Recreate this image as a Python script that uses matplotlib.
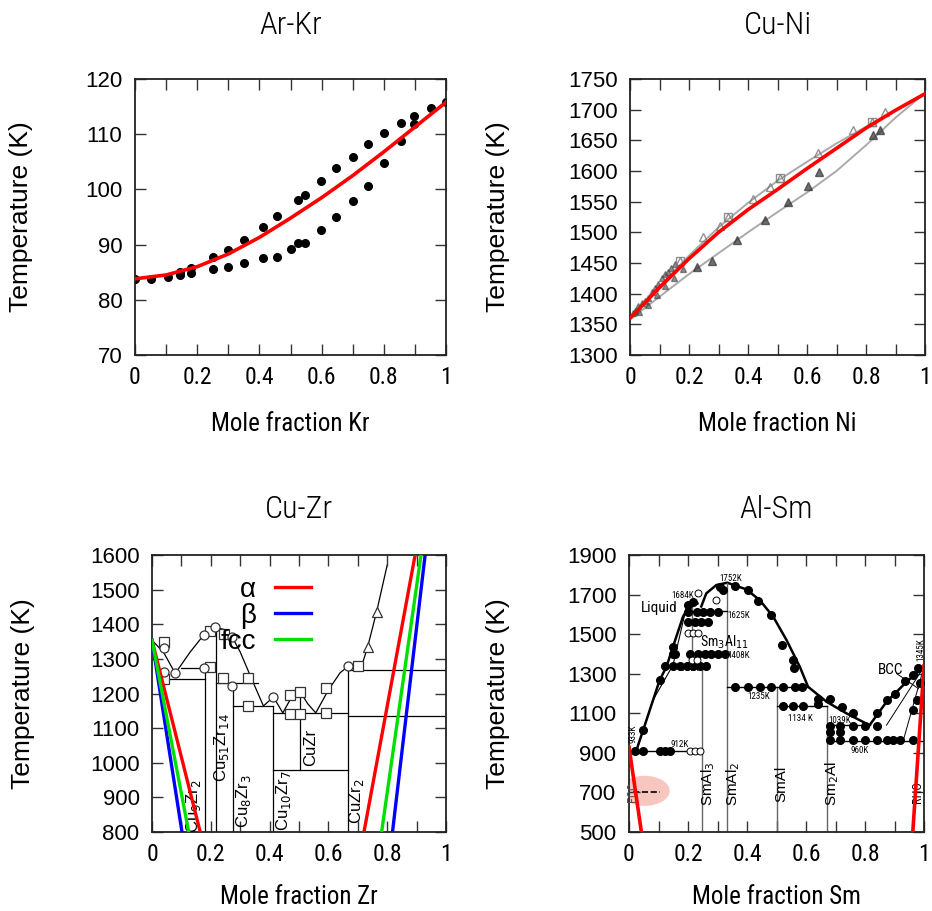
import matplotlib
matplotlib.use("Agg")
import matplotlib.pyplot as plt
from matplotlib.patches import Ellipse

NARROW = ["Roboto Condensed", "DejaVu Sans"]
REG = ["Liberation Sans", "DejaVu Sans"]

# ---------------- Ar-Kr ----------------
arkr_x = [0.0, 0.052, 0.105, 0.146, 0.146, 0.18, 0.18, 0.25, 0.25, 0.30, 0.30,
          0.35, 0.35, 0.41, 0.41, 0.456, 0.456, 0.503, 0.523, 0.523, 0.547, 0.547,
          0.598, 0.598, 0.647, 0.647, 0.70, 0.70, 0.75, 0.75, 0.80, 0.80,
          0.855, 0.855, 0.898, 0.898, 0.952, 1.0]
arkr_t = [83.8, 83.8, 84.2, 84.5, 85.0, 84.8, 85.8, 85.5, 87.8, 85.9, 89.1,
          86.7, 90.8, 87.5, 93.1, 87.8, 95.1, 89.2, 90.2, 98.0, 90.2, 99.0,
          92.7, 101.5, 95.0, 103.8, 97.9, 105.9, 100.7, 108.2, 104.8, 110.2,
          108.7, 112.0, 111.8, 113.3, 114.8, 115.8]
arkr_fit_x = [0.0, 0.1, 0.2, 0.3, 0.4, 0.5, 0.6, 0.7, 0.8, 0.9, 1.0]
arkr_fit_t = [83.8, 84.5, 86.0, 88.3, 91.3, 94.8, 98.5, 102.5, 106.8, 111.3, 115.8]

# ---------------- Cu-Ni ----------------
cuni_liq_x = [0.0, 0.1, 0.2, 0.3, 0.4, 0.5, 0.6, 0.7, 0.8, 0.9, 1.0]
cuni_liq_t = [1358, 1412, 1462, 1508, 1548, 1584, 1615, 1645, 1672, 1700, 1727]
cuni_sol_t = [1358, 1395, 1432, 1466, 1500, 1533, 1565, 1600, 1642, 1687, 1727]
cuni_up_x = [0.17, 0.249, 0.305, 0.333, 0.418, 0.475, 0.508, 0.638, 0.757, 0.819, 0.864]
cuni_up_t = [1454, 1492, 1511, 1525, 1555, 1574, 1588, 1629, 1667, 1680, 1697]
cuni_lo_x = [0.226, 0.277, 0.362, 0.458, 0.537, 0.605, 0.642, 0.825, 0.847]
cuni_lo_t = [1443, 1454, 1487, 1520, 1550, 1575, 1599, 1658, 1667]
cuni_cl_x = [0.01, 0.017, 0.028, 0.04, 0.051, 0.062, 0.075, 0.085, 0.096, 0.11,
             0.119, 0.13, 0.14, 0.153, 0.03, 0.06, 0.09, 0.12, 0.15, 0.18]
cuni_cl_t = [1368, 1372, 1380, 1385, 1388, 1393, 1402, 1410, 1415, 1425,
             1432, 1436, 1442, 1448, 1370, 1381, 1398, 1412, 1425, 1440]
cuni_fit_x = [0.0, 0.1, 0.2, 0.3, 0.4, 0.5, 0.6, 0.7, 0.8, 0.9, 1.0]
cuni_fit_t = [1360, 1410, 1457, 1500, 1537, 1570, 1604, 1637, 1670, 1699, 1726]

# ---------------- Cu-Zr ----------------
cuzr_liq_x = [0.0, 0.04, 0.079, 0.13, 0.176, 0.215, 0.245, 0.272, 0.30, 0.34, 0.379,
              0.413, 0.445, 0.475, 0.502, 0.53, 0.557, 0.60, 0.64, 0.668, 0.713,
              0.733, 0.764, 0.80]
cuzr_liq_t = [1354, 1318, 1258, 1320, 1369, 1391, 1385, 1364, 1320, 1240, 1164,
              1190, 1144, 1190, 1208, 1170, 1144, 1210, 1260, 1279, 1279,
              1333, 1436, 1571]
cuzr_vert_x = [0.181, 0.219, 0.274, 0.413, 0.504, 0.668]
cuzr_vert_top = [1267, 1383, 1210, 1164, 1208, 1267]
cuzr_vert_bot = [800, 800, 800, 800, 978, 800]
cuzr_hor_t = [1243, 1275, 1229, 1164, 1144, 978, 1267, 1135]
cuzr_hor_x0 = [0.04, 0.10, 0.219, 0.274, 0.413, 0.413, 0.668, 0.668]
cuzr_hor_x1 = [0.181, 0.215, 0.362, 0.413, 0.668, 0.668, 1.0, 1.0]
cuzr_sq_x = [0.040, 0.040, 0.198, 0.198, 0.246, 0.243, 0.328, 0.328, 0.470, 0.470,
             0.502, 0.502, 0.591, 0.591, 0.702]
cuzr_sq_t = [1349, 1243, 1381, 1277, 1372, 1246, 1245, 1163, 1195, 1142,
             1205, 1142, 1216, 1144, 1279]
cuzr_ci_x = [0.040, 0.042, 0.079, 0.176, 0.176, 0.215, 0.272, 0.272, 0.413, 0.668]
cuzr_ci_t = [1330, 1263, 1258, 1369, 1274, 1391, 1364, 1222, 1190, 1279]
cuzr_tri_x = [0.733, 0.764]
cuzr_tri_t = [1333, 1436]
cuzr_names = [r"Cu$_9$Zr$_2$", r"Cu$_{51}$Zr$_{14}$", r"Cu$_8$Zr$_3$",
              r"Cu$_{10}$Zr$_7$", "CuZr", r"CuZr$_2$"]
cuzr_name_x = [0.142, 0.238, 0.311, 0.447, 0.538, 0.697]
cuzr_name_t = [875, 1045, 890, 890, 1045, 890]
cuzr_phases = ["α", "β", "fcc"]
cuzr_left_x = [0.164, 0.102, 0.125]      # x at 800 K, start (0, 1354)
cuzr_right_x0 = [0.721, 0.818, 0.781]    # x at 800 K
cuzr_right_x1 = [0.895, 0.929, 0.915]    # x at 1600 K

# ---------------- Al-Sm ----------------
alsm_liq1_x = [0.025, 0.048, 0.104, 0.127, 0.149, 0.183, 0.212, 0.232]
alsm_liq1_t = [913, 1015, 1268, 1335, 1436, 1588, 1664, 1655]
alsm_liq2_x = [0.245, 0.262, 0.296, 0.333, 0.398, 0.443, 0.489, 0.534, 0.579,
               0.607, 0.670, 0.738, 0.811]
alsm_liq2_t = [1640, 1706, 1748, 1760, 1726, 1672, 1588, 1470, 1335,
               1234, 1158, 1099, 1043]
alsm_bcc_x = [0.817, 0.873, 0.941, 1.0]
alsm_bcc_t = [1043, 1158, 1259, 1335]
alsm_sol_x = [0.025, 0.081, 0.149, 0.195, 0.22]
alsm_sol_t = [908, 1166, 1343, 1639, 1672]
alsm_vert_x = [0.249, 0.333, 0.502, 0.670, 0.212]
alsm_vert_top = [1343, 1760, 1234, 1136, 1672]
alsm_vert_bot = [500, 500, 500, 500, 1343]
alsm_hor_t = [908, 1343, 1402, 1618, 1234, 1136, 1040, 959]
alsm_hor_x0 = [0.0, 0.127, 0.212, 0.212, 0.333, 0.502, 0.670, 0.670]
alsm_hor_x1 = [0.249, 0.249, 0.333, 0.333, 0.607, 0.670, 0.817, 1.0]
alsm_dot_x = [0.019, 0.048, 0.104, 0.121, 0.138,
              0.048, 0.104, 0.121, 0.149, 0.149, 0.200, 0.217,
              0.149, 0.172, 0.195, 0.217, 0.240, 0.262,
              0.155, 0.206, 0.235, 0.257, 0.279, 0.302, 0.325,
              0.200, 0.223, 0.245, 0.268,
              0.200, 0.229, 0.251, 0.274, 0.302,
              0.308, 0.319, 0.359, 0.404, 0.438, 0.483, 0.517, 0.557, 0.559,
              0.359, 0.404, 0.443, 0.483, 0.523, 0.562, 0.585,
              0.523, 0.557, 0.590, 0.641, 0.641,
              0.681, 0.721, 0.760,
              0.681, 0.715, 0.760, 0.800, 0.839,
              0.681, 0.715, 0.760, 0.800, 0.839, 0.873, 0.896, 0.919, 0.964,
              0.681, 0.715,
              0.839, 0.873, 0.902, 0.936, 0.964, 0.981, 0.986, 0.964, 0.975]
alsm_dot_t = [908, 908, 908, 908, 908,
              1015, 1268, 1338, 1436, 1402, 1647, 1664,
              1338, 1338, 1338, 1338, 1338, 1338,
              1399, 1399, 1399, 1399, 1399, 1399, 1399,
              1563, 1563, 1563, 1563,
              1613, 1613, 1613, 1613, 1613,
              1740, 1723, 1743, 1723, 1667, 1596, 1445, 1369, 1327,
              1234, 1234, 1234, 1234, 1234, 1234, 1234,
              1136, 1136, 1136, 1149, 1170,
              1170, 1133, 1099,
              1035, 1035, 1035, 1035, 1035,
              967, 967, 967, 967, 967, 967, 967, 967, 967,
              1006, 1006,
              1099, 1166, 1197, 1264, 1293, 1327, 1251, 1116, 1166]
alsm_open_x = [0.206, 0.223, 0.240, 0.200, 0.217, 0.234, 0.234, 0.296, 0.215, 0.232]
alsm_open_t = [908, 908, 908, 1504, 1504, 1504, 1706, 1672, 1370, 1370]
alsm_lab = ["Liquid", "1684K", "1752K", "1625K", "1408K", "1351K", "1235K",
            "1134 K", "1039K", "960K", "912K", "BCC"]
alsm_lab_x = [0.04, 0.145, 0.305, 0.335, 0.335, 0.16, 0.40, 0.54, 0.675, 0.75, 0.14, 0.845]
alsm_lab_t = [1630, 1697, 1782, 1596, 1394, 1325, 1183, 1073, 1062, 913, 944, 1318]
alsm_cmp = [r"SmAl$_3$", r"SmAl$_2$", "SmAl", r"Sm$_2$Al"]
alsm_cmp_x = [0.268, 0.353, 0.517, 0.687]
alsm_fit_left_x = [0.0, 0.042]
alsm_fit_left_t = [930, 500]
alsm_fit_right_x = [0.962, 1.0]
alsm_fit_right_t = [500, 1340]


def style(ax, ylim, yticks, ylabel_x):
    ax.set_xlim(0, 1)
    ax.set_ylim(*ylim)
    ax.set_xticks([0, 0.2, 0.4, 0.6, 0.8, 1.0])
    ax.set_xticklabels(["0", "0.2", "0.4", "0.6", "0.8", "1"], family=NARROW, fontsize=17)
    ax.set_xticks([0.1, 0.3, 0.5, 0.7, 0.9], minor=True)
    ax.set_yticks(yticks)
    ax.set_yticklabels([str(v) for v in yticks], family=REG, fontsize=16)
    ax.tick_params(which="both", direction="in", top=True, right=True,
                   length=8, width=1.0, color="#333333")
    ax.tick_params(axis="x", pad=8)
    ax.tick_params(axis="y", pad=9)
    for s in ax.spines.values():
        s.set_linewidth(1.3)
        s.set_color("#222222")
    ax.set_ylabel("Temperature (K)", family=REG, fontsize=19)
    ax.yaxis.set_label_coords(ylabel_x, 0.5)


fig = plt.figure(figsize=(9.32, 9.11), dpi=100)
W, H = 932, 911


def add_ax(l, t, r, b):
    return fig.add_axes([l / W, 1 - b / H, (r - l) / W, (b - t) / H])


ax1 = add_ax(135, 79, 446, 355)
ax2 = add_ax(630, 79, 925, 355)
ax3 = add_ax(152, 555, 446, 832)
ax4 = add_ax(629, 555, 924, 832)

# Ar-Kr
ax1.plot(arkr_x, arkr_t, "o", color="black", ms=5.5, zorder=2)
ax1.plot(arkr_fit_x, arkr_fit_t, "-", color="red", lw=2.6, zorder=3)
style(ax1, (70, 120), [70, 80, 90, 100, 110, 120], -0.328)

# Cu-Ni
ax2.plot(cuni_liq_x, cuni_liq_t, "-", color="#aaaaaa", lw=1.4)
ax2.plot(cuni_liq_x, cuni_sol_t, "-", color="#aaaaaa", lw=1.4)
ax2.plot(cuni_cl_x, cuni_cl_t, "^", color="#444444", ms=5, alpha=0.6, mec="#444444")
ax2.plot(cuni_up_x, cuni_up_t, "^", color="none", mec="#777777", ms=6, alpha=0.8)
ax2.plot(cuni_up_x[::3], cuni_up_t[::3], "s", color="none", mec="#777777", ms=6, alpha=0.8)
ax2.plot(cuni_lo_x, cuni_lo_t, "^", color="#333333", ms=6, alpha=0.7)
ax2.plot(cuni_fit_x, cuni_fit_t, "-", color="red", lw=2.6, zorder=3)
style(ax2, (1300, 1750), list(range(1300, 1751, 50)), -0.407)

# Cu-Zr
k = dict(color="black", lw=0.9, zorder=1)
ax3.plot(cuzr_liq_x, cuzr_liq_t, **k)
for x, t0, t1 in zip(cuzr_vert_x, cuzr_vert_top, cuzr_vert_bot):
    ax3.plot([x, x], [t0, t1], **k)
for t, x0, x1 in zip(cuzr_hor_t, cuzr_hor_x0, cuzr_hor_x1):
    ax3.plot([x0, x1], [t, t], **k)
mk = dict(ls="none", mfc="white", mec="#333333", mew=0.9, ms=6.5, zorder=2)
ax3.plot(cuzr_sq_x, cuzr_sq_t, marker="s", **mk)
ax3.plot(cuzr_ci_x, cuzr_ci_t, marker="o", **mk)
ax3.plot(cuzr_tri_x, cuzr_tri_t, marker="^", **mk)
for n, x, t in zip(cuzr_names, cuzr_name_x, cuzr_name_t):
    ax3.text(x, t, n, rotation=90, ha="center", va="center", fontsize=12, family=REG)
cols = ["red", "blue", "#00e000"]
for name, c, xl, xr0, xr1 in zip(cuzr_phases, cols, cuzr_left_x, cuzr_right_x0, cuzr_right_x1):
    ax3.plot([0.0, xl], [1354, 800], color=c, lw=2.4, label=name, zorder=4)
    ax3.plot([xr0, xr1], [800, 1600], color=c, lw=2.4, zorder=4)
leg = ax3.legend(loc="upper right", bbox_to_anchor=(0.58, 0.96), frameon=False,
                 markerfirst=False, handlelength=1.3, labelspacing=0.0,
                 handletextpad=0.7, borderaxespad=0.0, prop={"family": REG, "size": 20})
for t in leg.get_texts():
    t.set_ha("right")
style(ax3, (800, 1600), list(range(800, 1601, 100)), -0.398)

# Al-Sm
ax4.add_patch(Ellipse((0.053, 708), 0.17, 152, color="#f4b8b0", alpha=0.8, lw=0, zorder=0))
ax4.plot([0.014, 0.104], [703, 703], "--", color="black", lw=1.2, zorder=1)
ax4.plot(alsm_liq1_x, alsm_liq1_t, color="black", lw=1.8)
ax4.plot(alsm_liq2_x, alsm_liq2_t, color="black", lw=1.8)
ax4.plot(alsm_bcc_x, alsm_bcc_t, color="black", lw=1.8)
ax4.plot(alsm_sol_x, alsm_sol_t, color="black", lw=0.8)
ax4.plot([0.873, 1.0], [1040, 1335], color="black", lw=0.7)
ax4.plot([0.93, 1.0], [964, 1335], color="black", lw=0.7)
ax4.plot([0.907, 0.981], [1301, 1225], color="black", lw=0.7)
for x, t0, t1 in zip(alsm_vert_x, alsm_vert_top, alsm_vert_bot):
    ax4.plot([x, x], [t0, t1], color="#666666", lw=1.0)
for t, x0, x1 in zip(alsm_hor_t, alsm_hor_x0, alsm_hor_x1):
    ax4.plot([x0, x1], [t, t], color="black", lw=1.0)
ax4.plot(alsm_dot_x, alsm_dot_t, "o", color="black", ms=5.5, zorder=3)
ax4.plot(alsm_open_x, alsm_open_t, "o", mfc="white", mec="black", mew=0.7, ms=5, zorder=3)
for s, x, t in zip(alsm_lab, alsm_lab_x, alsm_lab_t):
    ax4.text(x, t, s, fontsize=11 if s in ("Liquid", "BCC") else 6.5,
             family=NARROW, ha="left", va="center", zorder=4)
ax4.text(0.24, 1461, r"Sm$_3$Al$_{11}$", fontsize=10, family=NARROW, va="center")
ax4.text(0.012, 998, "933K", rotation=90, fontsize=6.5, family=NARROW, ha="center", va="center")
ax4.text(0.99, 1420, "1345K", rotation=90, fontsize=6.5, family=NARROW, ha="center", va="center")
ax4.text(0.012, 700, "FCC", rotation=90, fontsize=9, family=NARROW, ha="center", va="center",
         color="#555555")
ax4.text(0.978, 700, "RHO", rotation=90, fontsize=9, family=NARROW, ha="center", va="center")
for n, x in zip(alsm_cmp, alsm_cmp_x):
    ax4.text(x, 745, n, rotation=90, fontsize=11, family=REG, ha="center", va="center")
ax4.plot(alsm_fit_left_x, alsm_fit_left_t, color="red", lw=2.6, zorder=5)
ax4.plot(alsm_fit_right_x, alsm_fit_right_t, color="red", lw=2.6, zorder=5)
style(ax4, (500, 1900), list(range(500, 1901, 200)), -0.403)

# titles and x labels
for ax, title, xl, ty, ly in [(ax1, "Ar-Kr", "Mole fraction Kr", 25, 424),
                              (ax2, "Cu-Ni", "Mole fraction Ni", 25, 424),
                              (ax3, "Cu-Zr", "Mole fraction Zr", 510, 897),
                              (ax4, "Al-Sm", "Mole fraction Sm", 510, 897)]:
    bb = ax.get_position()
    cx = (bb.x0 + bb.x1) / 2
    fig.text(cx, 1 - ty / H, title, ha="center", va="center", family=NARROW,
             fontsize=23, fontweight="light")
    fig.text(cx, 1 - ly / H, xl, ha="center", va="center", family=NARROW, fontsize=18)

fig.savefig("out.png", dpi=100)
